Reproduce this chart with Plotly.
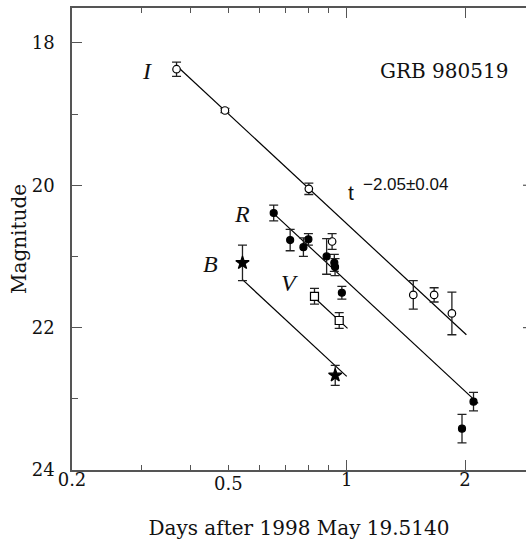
import math
import plotly.graph_objects as go

# Afterglow photometry of GRB 980519 (days after 1998 May 19.5140, magnitudes)
i_days = [0.369, 0.490, 0.801, 1.477, 1.669, 1.852]
i_mag = [18.37, 18.95, 20.05, 21.54, 21.54, 21.80]
i_err = [0.10, 0.03, 0.08, 0.20, 0.10, 0.30]

extra_days = [0.918]
extra_mag = [20.79]
extra_err = [0.11]

r_days = [0.652, 0.718, 0.776, 0.799, 0.889, 0.930, 0.934, 0.972, 1.965, 2.102]
r_mag = [20.39, 20.77, 20.87, 20.76, 21.00, 21.09, 21.15, 21.51, 23.42, 23.04]
r_err = [0.11, 0.15, 0.13, 0.08, 0.25, 0.12, 0.12, 0.09, 0.20, 0.13]

v_days = [0.828, 0.957]
v_mag = [21.56, 21.90]
v_err = [0.11, 0.11]

b_days = [0.543, 0.935]
b_mag = [21.09, 22.67]
b_err = [0.25, 0.14]

# Power-law decay t^-alpha: magnitude at t = 1 day and span of each fitted line
alpha = 2.05
fit_bands = ["I", "R", "V", "B"]
fit_mag_1d = [20.54, 21.35, 22.00, 22.685]
fit_t_start = [0.369, 0.652, 0.828, 0.543]
fit_t_end = [2.016, 2.160, 1.005, 1.000]

band_labels = ["I", "R", "B", "V"]
band_label_days = [0.311, 0.543, 0.450, 0.714]
band_label_mag = [18.39, 20.40, 21.11, 21.37]

x_ticks = [0.2, 1, 2]
x_tick_text = ["0.2", "1", "2"]
x_minor = [0.3, 0.4, 0.5, 0.6, 0.7, 0.8, 0.9]
x_extra_label = 0.5
y_ticks = [18, 20, 22, 24]
y_minor = [19, 21, 23]

SERIF = "DejaVu Serif"
INK = "#111111"
AXIS = "#555555"
PLOT_H = 462

fig = go.Figure()

# fitted decay lines
for mag1, t0, t1 in zip(fit_mag_1d, fit_t_start, fit_t_end):
    ts = [t0, t1]
    ms = [mag1 + 2.5 * alpha * math.log10(t) for t in ts]
    fig.add_trace(go.Scatter(x=ts, y=ms, mode="lines",
                             line=dict(color="black", width=1.2),
                             hoverinfo="skip", showlegend=False))

err_style = dict(type="data", visible=True, color="#222222", thickness=1.3, width=4.5)

def points(x, y, e, symbol, size, filled):
    marker = dict(symbol=symbol, size=size, color="black" if filled else "white",
                  line=dict(color="black", width=1.2))
    return go.Scatter(x=x, y=y, mode="markers", marker=marker,
                      error_y=dict(array=e, **err_style), showlegend=False)

fig.add_trace(points(i_days, i_mag, i_err, "circle", 7.5, False))
fig.add_trace(points(extra_days, extra_mag, extra_err, "circle", 7.5, False))
fig.add_trace(points(r_days, r_mag, r_err, "circle", 7, True))
fig.add_trace(points(v_days, v_mag, v_err, "square", 8, False))
fig.add_trace(points(b_days, b_mag, b_err, "star", 10, True))

annotations = []
for lab, d, m in zip(band_labels, band_label_days, band_label_mag):
    annotations.append(dict(x=math.log10(d), y=m, xref="x", yref="y", text=f"<i>{lab}</i>",
                            showarrow=False, xanchor="center", yanchor="middle",
                            font=dict(family="Liberation Serif", size=24, color=INK)))

annotations.append(dict(x=math.log10(1.025), y=20.1, xref="x", yref="y", text="t",
                        showarrow=False, xanchor="center", yanchor="middle",
                        font=dict(family="Liberation Sans", size=21, color=INK)))
annotations.append(dict(x=math.log10(1.088), y=19.985, xref="x", yref="y",
                        text="\u22122.05\u00b10.04", showarrow=False,
                        xanchor="left", yanchor="middle",
                        font=dict(family="Liberation Sans", size=17, color=INK)))
annotations.append(dict(x=math.log10(1.766), y=18.40, xref="x", yref="y",
                        text="GRB 980519", showarrow=False,
                        xanchor="center", yanchor="middle",
                        font=dict(family=SERIF, size=20, color=INK)))
# labelled minor tick on the time axis
annotations.append(dict(x=math.log10(x_extra_label), y=-13 / PLOT_H, xref="x", yref="paper",
                        text=str(x_extra_label), showarrow=False,
                        xanchor="center", yanchor="middle",
                        font=dict(family=SERIF, size=18, color=INK)))

# short stubs of the right-hand frame ticks at the window edge
shapes = []
for m in [20, 22]:
    shapes.append(dict(type="line", xref="paper", yref="y", x0=1 - 3 / 454, x1=1,
                       y0=m, y1=m, line=dict(color=AXIS, width=1.2)))

fig.update_layout(
    width=526, height=542,
    margin=dict(l=72, r=0, t=8, b=72),
    paper_bgcolor="white", plot_bgcolor="white",
    annotations=annotations, shapes=shapes,
    xaxis=dict(
        type="log", range=[math.log10(0.2), 0.4562],
        tickmode="array", tickvals=x_ticks, ticktext=x_tick_text,
        ticks="inside", ticklen=10, tickwidth=1.2, tickcolor=AXIS,
        minor=dict(tickmode="array", tickvals=x_minor, ticks="inside",
                   ticklen=5, tickwidth=1.2, tickcolor=AXIS, showgrid=False),
        showline=True, linecolor=AXIS, linewidth=1.6, mirror="ticks",
        showgrid=False, zeroline=False,
        tickfont=dict(family=SERIF, size=18, color=INK),
        ticklabelstandoff=-7,
        title=dict(text="Days after 1998 May 19.5140",
                   font=dict(family=SERIF, size=20, color=INK), standoff=32),
    ),
    yaxis=dict(
        range=[24, 17.51],
        tickmode="array", tickvals=y_ticks,
        ticks="inside", ticklen=10, tickwidth=1.2, tickcolor=AXIS,
        minor=dict(tickmode="array", tickvals=y_minor, ticks="inside",
                   ticklen=6, tickwidth=1.2, tickcolor=AXIS, showgrid=False),
        showline=True, linecolor=AXIS, linewidth=1.6, mirror=False,
        showgrid=False, zeroline=False,
        tickfont=dict(family=SERIF, size=18, color=INK),
        ticklabelstandoff=12,
        title=dict(text="Magnitude", font=dict(family=SERIF, size=20, color=INK),
                   standoff=0),
    ),
)

fig.write_html("out.html")
